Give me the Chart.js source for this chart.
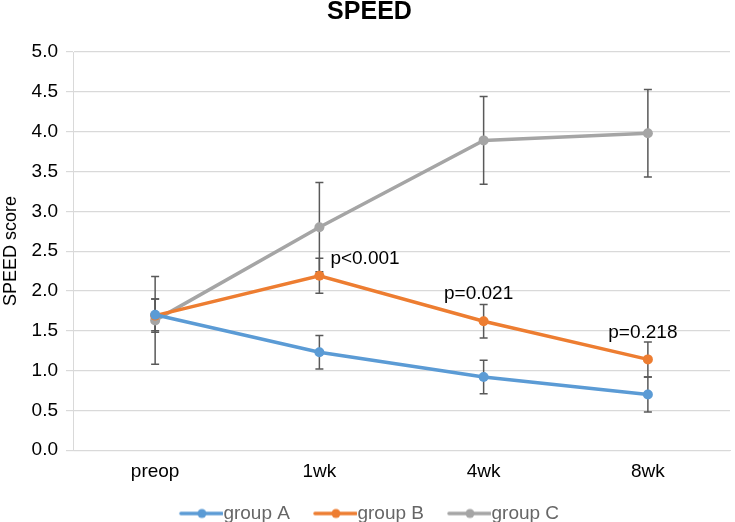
<!DOCTYPE html>
<html>
<head>
<meta charset="utf-8">
<script src="https://cdn.jsdelivr.net/npm/chart.js@4/dist/chart.umd.min.js"></script>
<style>
  body { margin: 0; background: #fff; }
  #wrap { width: 735px; height: 522px; }
</style>
</head>
<body>
<div id="wrap"><canvas id="grafico" width="735" height="522"></canvas></div>
<script>
const categorias = ['preop', '1wk', '4wk', '8wk'];

const grupoA = [1.70, 1.23, 0.92, 0.70];
const grupoAErr = [0.20, 0.21, 0.21, 0.22];

const grupoB = [1.69, 2.19, 1.62, 1.14];
const grupoBErr = [0.21, 0.22, 0.21, 0.22];

const grupoC = [1.63, 2.80, 3.89, 3.98];
const grupoCErr = [0.55, 0.56, 0.55, 0.55];

const pLabels = ['', 'p<0.001', 'p=0.021', 'p=0.218'];
const pLabelY = [0, 2.41, 1.96, 1.47];

const COLORES = ['#5B9BD5', '#ED7D31', '#A5A5A5'];
const FUENTE = "'Liberation Sans', Arial, sans-serif";

// legend icon: line with a dot, drawn at the right side of the box
function iconoLeyenda(color) {
    var c = document.createElement('canvas');
    c.width = 72; c.height = 14;
    var ctx = c.getContext('2d');
    ctx.strokeStyle = color;
    ctx.lineWidth = 3.5;
    ctx.lineCap = 'round';
    ctx.beginPath();
    ctx.moveTo(30, 7); ctx.lineTo(71, 7);
    ctx.stroke();
    ctx.fillStyle = color;
    ctx.beginPath();
    ctx.arc(51, 7, 4.5, 0, Math.PI * 2);
    ctx.fill();
    return c;
}

const erroresPlugin = {
    id: 'errores',
    beforeDatasetsDraw(chart) {
        const ctx = chart.ctx;
        const y = chart.scales.y;
        ctx.save();
        ctx.strokeStyle = '#595959';
        ctx.lineWidth = 1.5;
        chart.data.datasets.forEach(function (ds, i) {
            const meta = chart.getDatasetMeta(i);
            meta.data.forEach(function (pt, j) {
                const v = ds.data[j];
                const e = ds.errores[j];
                const top = y.getPixelForValue(v + e);
                const bot = y.getPixelForValue(v - e);
                ctx.beginPath();
                ctx.moveTo(pt.x, top); ctx.lineTo(pt.x, bot);
                ctx.moveTo(pt.x - 4, top); ctx.lineTo(pt.x + 4, top);
                ctx.moveTo(pt.x - 4, bot); ctx.lineTo(pt.x + 4, bot);
                ctx.stroke();
            });
        });
        ctx.restore();
    }
};

const pPlugin = {
    id: 'pvalores',
    afterDatasetsDraw(chart) {
        const ctx = chart.ctx;
        const x = chart.scales.x;
        const y = chart.scales.y;
        ctx.save();
        ctx.fillStyle = '#000';
        ctx.font = '19px ' + FUENTE;
        ctx.textBaseline = 'middle';
        pLabels.forEach(function (t, i) {
            if (!t) return;
            const px = x.getPixelForValue(i);
            const py = y.getPixelForValue(pLabelY[i]);
            if (i === 1) {
                ctx.textAlign = 'left';
                ctx.fillText(t, px + 11, py);
            } else {
                ctx.textAlign = 'center';
                ctx.fillText(t, px - 5, py);
            }
        });
        ctx.restore();
    }
};

// nudge legend a little to the left, like the original
const leyendaPlugin = {
    id: 'leyendaIzq',
    afterLayout(chart) {
        chart.legend.left -= 10;
        chart.legend.right -= 10;
    }
};

function serie(label, datos, errores, color) {
    return {
        label: label,
        data: datos,
        errores: errores,
        borderColor: color,
        backgroundColor: color,
        borderWidth: 3.5,
        pointStyle: 'circle',
        pointRadius: 5,
        pointHoverRadius: 5,
        pointBorderWidth: 0,
        tension: 0
    };
}

const grafico = new Chart(document.getElementById('grafico'), {
    type: 'line',
    data: {
        labels: categorias,
        datasets: [
            serie('group A', grupoA, grupoAErr, COLORES[0]),
            serie('group B', grupoB, grupoBErr, COLORES[1]),
            serie('group C', grupoC, grupoCErr, COLORES[2])
        ]
    },
    options: {
        responsive: false,
        animation: false,
        layout: { padding: { left: 0, right: -4, top: 0, bottom: -11 } },
        plugins: {
            title: {
                display: true,
                text: 'SPEED',
                color: '#000',
                font: { family: FUENTE, size: 25, weight: 'bold', lineHeight: 1 },
                padding: { top: 0, bottom: 27 }
            },
            legend: {
                position: 'bottom',
                title: {
                    display: true,
                    text: '',
                    font: { size: 1, lineHeight: 1 },
                    padding: { top: 6, bottom: 0 }
                },
                labels: {
                    usePointStyle: true,
                    pointStyleWidth: 54,
                    color: '#000',
                    font: { family: FUENTE, size: 19 },
                    padding: 4,
                    generateLabels: function (chart) {
                        return chart.data.datasets.map(function (ds, i) {
                            return {
                                text: ds.label,
                                pointStyle: iconoLeyenda(COLORES[i]),
                                fillStyle: COLORES[i],
                                strokeStyle: COLORES[i],
                                lineWidth: 0,
                                datasetIndex: i
                            };
                        });
                    }
                }
            },
            tooltip: { enabled: false }
        },
        scales: {
            x: {
                offset: true,
                grid: { display: false, drawTicks: false, tickLength: 0 },
                border: { color: '#D9D9D9' },
                ticks: { color: '#000', font: { family: FUENTE, size: 19 }, padding: 10 }
            },
            y: {
                min: 0,
                max: 5,
                ticks: {
                    stepSize: 0.5,
                    color: '#000',
                    font: { family: FUENTE, size: 19 },
                    padding: 8,
                    callback: function (v) { return v.toFixed(1); }
                },
                grid: { color: '#D9D9D9', lineWidth: 1.2, tickLength: 7 },
                border: { color: '#D9D9D9' },
                title: {
                    display: true,
                    text: 'SPEED score',
                    color: '#000',
                    font: { family: FUENTE, size: 18 },
                    padding: { top: 0, bottom: 2 }
                }
            }
        }
    },
    plugins: [erroresPlugin, pPlugin, leyendaPlugin]
});
</script>
</body>
</html>
